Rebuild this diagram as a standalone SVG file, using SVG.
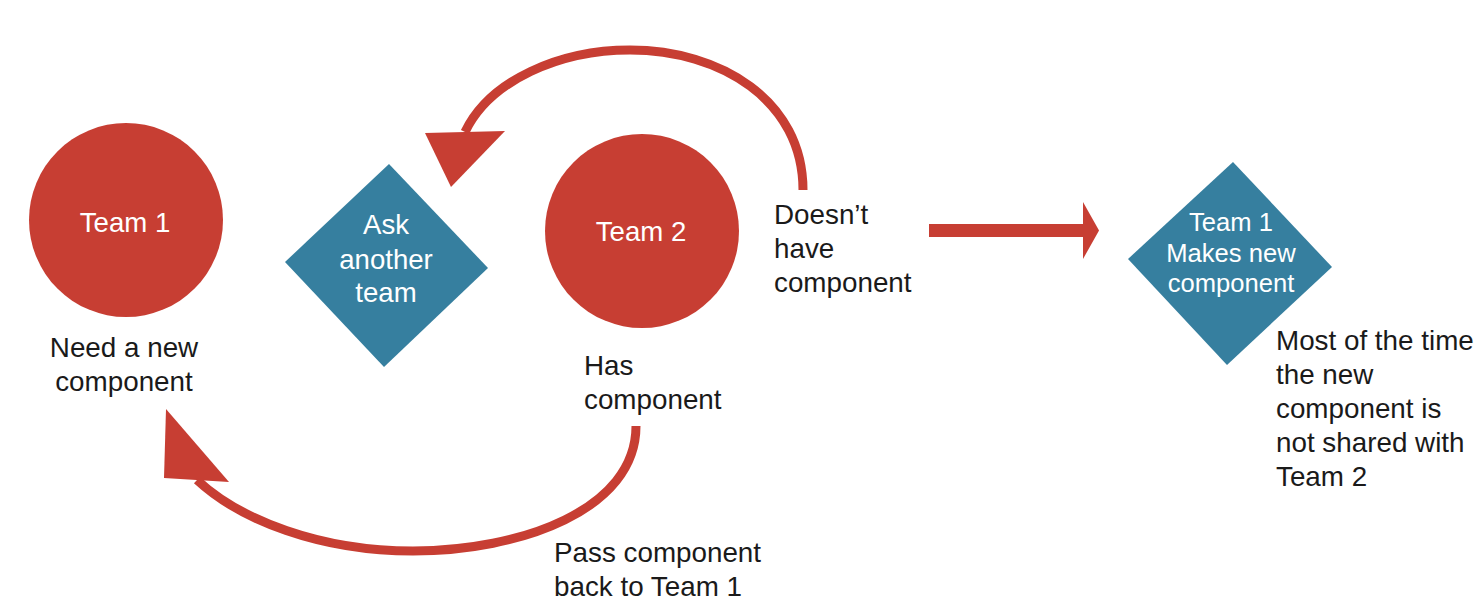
<svg xmlns="http://www.w3.org/2000/svg" width="1484" height="614" viewBox="0 0 1484 614">
<style>
.red{fill:#C73E33}
.blue{fill:#367F9F}
.wt{fill:#ffffff;font-family:"Liberation Sans",Arial,sans-serif;font-size:27.6px;text-anchor:middle}
.wt2{fill:#ffffff;font-family:"Liberation Sans",Arial,sans-serif;font-size:25.6px;text-anchor:middle}
.lbl{fill:#1a1a1a;font-family:"Liberation Sans",Arial,sans-serif;font-size:27.8px}
.arc{fill:none;stroke:#C73E33;stroke-width:9}
</style>
<rect width="1484" height="614" fill="#ffffff"/>
<g id="connectors">
<path class="arc" d="M 803 190 C 803 100, 720 50, 630 50 C 560 50, 490 80, 465 132"/>
<polygon class="red" points="425,133 505,131 451,187"/>
<path class="arc" d="M 636 426 C 636 510, 520 551, 413 551 C 320 551, 240 520, 197 480"/>
<polygon class="red" points="166,409 164,478 229,482"/>
<rect class="red" x="929" y="224" width="155" height="13"/>
<polygon class="red" points="1083,202 1099,230.5 1083,259"/>
</g>
<g id="team1">
<circle class="red" cx="126" cy="220" r="97"/>
<text class="wt" x="125" y="232">Team 1</text>
<text class="lbl" x="124" y="357" text-anchor="middle">Need a new</text>
<text class="lbl" x="124" y="391" text-anchor="middle">component</text>
</g>
<g id="ask">
<polygon class="blue" points="389,164 488,268 384,367 285,262"/>
<text class="wt" x="386" y="234">Ask</text>
<text class="wt" x="386" y="269">another</text>
<text class="wt" x="386" y="302">team</text>
</g>
<g id="team2">
<circle class="red" cx="642" cy="231" r="97"/>
<text class="wt" x="641" y="241">Team 2</text>
<text class="lbl" x="584" y="375">Has</text>
<text class="lbl" x="584" y="409">component</text>
</g>
<g id="label-doesnt">
<text class="lbl" x="774" y="224">Doesn’t</text>
<text class="lbl" x="774" y="258">have</text>
<text class="lbl" x="774" y="292">component</text>
</g>
<g id="label-pass">
<text class="lbl" x="554" y="562">Pass component</text>
<text class="lbl" x="554" y="596">back to Team 1</text>
</g>
<g id="makes">
<polygon class="blue" points="1233,162 1332,267 1227,365 1128,259"/>
<text class="wt2" x="1231" y="231">Team 1</text>
<text class="wt2" x="1231" y="262">Makes new</text>
<text class="wt2" x="1231" y="292">component</text>
</g>
<g id="label-most">
<text class="lbl" x="1276" y="350">Most of the time</text>
<text class="lbl" x="1276" y="384">the new</text>
<text class="lbl" x="1276" y="418">component is</text>
<text class="lbl" x="1276" y="452">not shared with</text>
<text class="lbl" x="1276" y="486">Team 2</text>
</g>
</svg>
